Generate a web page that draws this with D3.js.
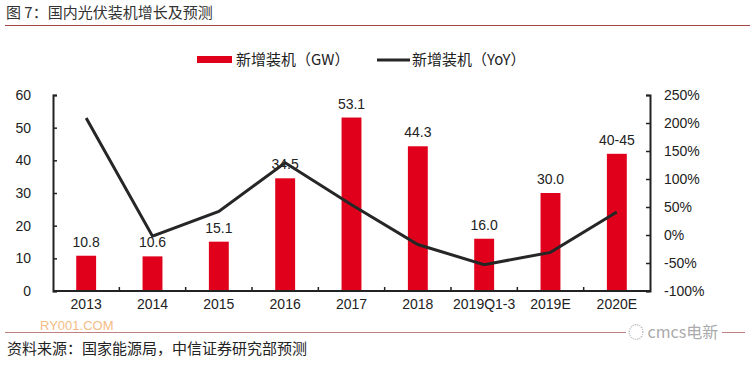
<!DOCTYPE html>
<html><head><meta charset="utf-8">
<script src="https://cdn.jsdelivr.net/npm/d3@7"></script>
<style>body{margin:0;background:#fff}svg{display:block}text{font-family:"Liberation Sans",Arial,"Noto Sans CJK SC",sans-serif}</style>
</head><body>
<svg id="c" width="750" height="368"></svg>
<script>
const categories = ["2013","2014","2015","2016","2017","2018","2019Q1-3","2019E","2020E"];
const capacity = [10.8,10.6,15.1,34.5,53.1,44.3,16.0,30.0,42.0];
const capacityLabels = ["10.8","10.6","15.1","34.5","53.1","44.3","16.0","30.0","40-45"];
const yoy = [2.09,-0.02,0.42,1.29,0.54,-0.17,-0.53,-0.31,0.41];
const leftTicks = [0,10,20,30,40,50,60];
const rightTicks = [-1,-0.5,0,0.5,1,1.5,2,2.5];

const svg = d3.select("#c");
const cjk = '"Noto Sans CJK SC","Liberation Sans",sans-serif';
const L = 53, R = 650, T = 95, B = 291;
const x = d3.scaleBand().domain(categories).range([L, R]).paddingInner(0.7).paddingOuter(0.35);
const yL = d3.scaleLinear().domain([0,60]).range([B,T]);
const yR = d3.scaleLinear().domain([-1,2.5]).range([B,T]);

// title
svg.append("text").attr("x",6).attr("y",18).attr("font-size",15).attr("fill","#333")
  .style("font-family",cjk).text("图 7：国内光伏装机增长及预测");
svg.append("line").attr("x1",5).attr("x2",750).attr("y1",25.5).attr("y2",25.5).attr("stroke","#a04848").attr("stroke-width",1);

// bars
svg.append("g").selectAll("rect").data(categories).join("rect")
  .attr("x", d=>x(d)).attr("width", x.bandwidth())
  .attr("y", (d,i)=>yL(capacity[i])).attr("height",(d,i)=>B-yL(capacity[i]))
  .attr("fill","#e0001b");
svg.append("g").selectAll("text").data(categories).join("text")
  .attr("x", d=>x(d)+x.bandwidth()/2).attr("y",(d,i)=>yL(capacity[i])-9)
  .attr("text-anchor","middle").attr("font-size",14).attr("fill","#222")
  .text((d,i)=>capacityLabels[i]);

// line
const line = d3.line().x((d,i)=>x(categories[i])+x.bandwidth()/2).y(d=>yR(d));
svg.append("path").datum(yoy).attr("d",line).attr("fill","none").attr("stroke","#262626").attr("stroke-width",3);

// axes
const axL = svg.append("g").attr("transform",`translate(${L},0)`)
  .call(d3.axisLeft(yL).tickValues(leftTicks).tickSize(-4).tickSizeOuter(-4).tickPadding(22));
const axR = svg.append("g").attr("transform",`translate(${R},0)`)
  .call(d3.axisRight(yR).tickValues(rightTicks).tickSize(-4).tickSizeOuter(-4).tickPadding(14).tickFormat(d=>Math.round(d*100)+"%"));
const axX = svg.append("g").attr("transform",`translate(0,${B})`)
  .call(d3.axisBottom(x).tickSize(0).tickPadding(8));
axX.select(".domain").remove();
svg.append("line").attr("x1",L).attr("x2",R).attr("y1",B).attr("y2",B).attr("stroke","#222").attr("stroke-width",2);
// x ticks between categories
svg.append("g").selectAll("line").data(categories.slice(1)).join("line")
  .attr("x1",d=>x(d)-x.step()*x.paddingInner()/2).attr("x2",d=>x(d)-x.step()*x.paddingInner()/2)
  .attr("y1",B).attr("y2",B-4).attr("stroke","#222").attr("stroke-width",1.5);
[axL,axR,axX].forEach(a=>{
  a.selectAll("text").attr("font-size",14).attr("fill","#222").style("font-family",'"Liberation Sans",Arial,sans-serif');
  a.select(".domain").attr("stroke","#222").attr("stroke-width",2);
  a.selectAll(".tick line").attr("stroke","#222").attr("stroke-width",1.5);
});
axR.selectAll("text").attr("text-anchor","start");

// legend
const lg = svg.append("g");
lg.append("rect").attr("x",197).attr("y",56).attr("width",35).attr("height",7).attr("fill","#e0001b");
lg.append("text").attr("x",236).attr("y",65).attr("font-size",15).attr("fill","#222").style("font-family",cjk).text("新增装机（GW）");
lg.append("line").attr("x1",377).attr("x2",410).attr("y1",60).attr("y2",60).attr("stroke","#262626").attr("stroke-width",3);
lg.append("text").attr("x",412).attr("y",65).attr("font-size",15).attr("fill","#222").style("font-family",cjk).text("新增装机（YoY）");

// footer
svg.append("line").attr("x1",5).attr("x2",745).attr("y1",332.5).attr("y2",332.5).attr("stroke","#c08080").attr("stroke-width",1.2);
svg.append("text").attr("x",7).attr("y",354).attr("font-size",15).attr("fill","#222").style("font-family",cjk)
  .text("资料来源：国家能源局，中信证券研究部预测");
svg.append("text").attr("x",40).attr("y",330).attr("font-size",13).attr("fill","#f0a050").attr("opacity",0.7).text("RY001.COM");
svg.append("rect").attr("x",626).attr("y",322).attr("width",96).attr("height",20).attr("fill","#fff");
svg.append("text").attr("x",628).attr("y",338).attr("font-size",16).attr("fill","#aaa").style("font-family",cjk).text("◌ cmcs电新");
</script>
</body></html>
